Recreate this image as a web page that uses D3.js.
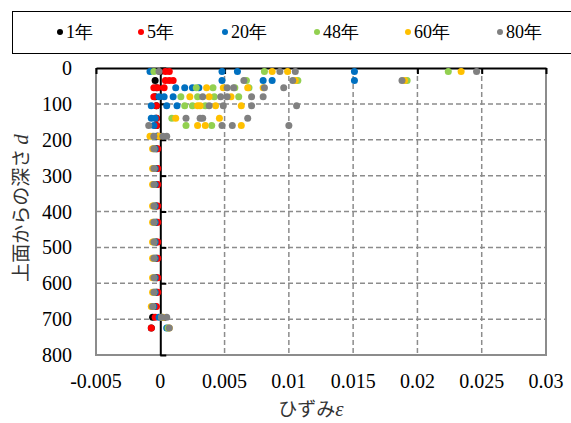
<!DOCTYPE html>
<html>
<head>
<meta charset="utf-8">
<script src="https://cdn.jsdelivr.net/npm/d3@7"></script>
<style>
  body { margin: 0; background: #fff; }
  svg { display: block; }
</style>
</head>
<body>
<div id="chart"></div>
<script>
// series and colours
const seriesNames = ['1年', '5年', '20年', '48年', '60年', '80年']
const seriesColors = ['#000000', '#ff0000', '#0070c0', '#92d050', '#ffc000', '#808080']

const xTicks = [-0.005, 0, 0.005, 0.01, 0.015, 0.02, 0.025, 0.03]
const yTicks = [0, 100, 200, 300, 400, 500, 600, 700, 800]

// [strain, depth]
const y1 = [[0, 10], [-0.0004, 35], [-0.0003, 55], [-0.0004, 80], [-0.0003, 105], [-0.0003, 140],
  [-0.0003, 160], [-0.0002, 190], [-0.0003, 225], [-0.0003, 280], [-0.0003, 325], [-0.0003, 385],
  [-0.0003, 430], [-0.0003, 485], [-0.0003, 530], [-0.0003, 585], [-0.0003, 625], [-0.0004, 665],
  [-0.0006, 695], [-0.0007, 725]]
const y5 = [[0.0004, 10], [0.0007, 10], [0.0004, 35], [0.0007, 35], [0.001, 35], [-0.0005, 55],
  [-0.0002, 55], [0.0003, 55], [-0.0005, 80], [-0.0003, 105], [-0.0003, 140], [-0.0003, 160],
  [-0.0002, 190], [-0.0002, 225], [-0.0002, 280], [-0.0002, 325], [-0.0002, 385], [-0.0002, 430],
  [-0.0002, 485], [-0.0002, 530], [-0.0002, 585], [-0.0002, 625], [-0.0003, 665], [-0.0004, 695],
  [-0.0007, 725]]
const y20 = [[-0.0008, 10], [0.0048, 10], [0.006, 10], [0.0151, 10], [0.0048, 35], [0.008, 35],
  [0.0087, 35], [0.0151, 35], [0.0012, 55], [0.0019, 55], [0.0025, 55], [0.003, 55],
  [-0.0001, 80], [0.0003, 80], [0.001, 80], [-0.0007, 105], [0.0005, 105], [0.0013, 105],
  [-0.0007, 140], [-0.0004, 140], [-0.0005, 160], [-0.0003, 190], [-0.0004, 225], [-0.0004, 280],
  [-0.0004, 325], [-0.0004, 385], [-0.0004, 430], [-0.0004, 485], [-0.0004, 530], [-0.0004, 585],
  [-0.0004, 625], [-0.0005, 665], [-0.0001, 695], [0.0005, 725]]
const y48 = [[-0.0005, 10], [0.0081, 10], [0.0224, 10], [0.0067, 35], [0.0107, 35], [0.0192, 35],
  [0.0028, 55], [0.0041, 55], [0.0058, 55], [0.0069, 55], [0.0016, 80], [0.0029, 80],
  [0.0042, 80], [0.0061, 80], [0.0019, 105], [0.0025, 105], [0.0035, 105], [0.0009, 140],
  [0.002, 160], [0.004, 160], [-0.0006, 190], [-0.0005, 225], [-0.0005, 280], [-0.0005, 325],
  [-0.0005, 385], [-0.0005, 430], [-0.0005, 485], [-0.0005, 530], [-0.0005, 585], [-0.0005, 625],
  [-0.0006, 665], [0.0001, 695], [0.0006, 725]]
const y60 = [[0.0087, 10], [0.0099, 10], [0.0234, 10], [0.0105, 35], [0.019, 35], [0.0036, 55],
  [0.0049, 55], [0.0068, 55], [0.008, 55], [0.0023, 80], [0.0038, 80], [0.0055, 80],
  [0.0029, 105], [0.0031, 105], [0.0043, 105], [0.0063, 105], [0.0012, 140], [0.0046, 140],
  [0.0029, 160], [0.0035, 160], [0.0063, 160], [-0.0008, 190], [-0.0001, 190], [-0.0006, 225],
  [-0.0006, 280], [-0.0006, 325], [-0.0006, 385], [-0.0006, 430], [-0.0006, 485], [-0.0006, 530],
  [-0.0006, 585], [-0.0006, 625], [-0.0007, 665], [0.0002, 695], [0.0007, 725]]
const y80 = [[-0.0001, 10], [0.0093, 10], [0.0105, 10], [0.0246, 10], [0.0065, 35], [0.0103, 35],
  [0.0188, 35], [0.0052, 55], [0.0057, 55], [0.0081, 55], [0.0096, 55], [0.0033, 80],
  [0.0047, 80], [0.0052, 80], [0.0071, 80], [0.008, 80], [0.0038, 105], [0.0049, 105],
  [0.0071, 105], [0.0106, 105], [0.002, 140], [0.0031, 140], [0.0033, 140], [0.0068, 140],
  [-0.0009, 160], [0.0048, 160], [0.0056, 160], [0.01, 160], [-0.0005, 190], [0.0002, 190],
  [0.0005, 190], [-0.0005, 225], [-0.0005, 280], [-0.0005, 325], [-0.0005, 385], [-0.0005, 430],
  [-0.0005, 485], [-0.0005, 530], [-0.0005, 585], [-0.0005, 625], [-0.0006, 665], [0.0001, 695],
  [0.0005, 695], [0.0007, 725]]

const seriesData = [y1, y5, y20, y48, y60, y80]

const serif = 'Liberation Serif, Tinos, Times New Roman, DejaVu Serif, serif'
const jp = 'Noto Sans CJK JP, sans-serif'

const W = 571, H = 423
const svg = d3.select('#chart').append('svg')
  .attr('width', W)
  .attr('height', H)

const x = d3.scaleLinear().domain([-0.005, 0.03]).range([96, 546])
const y = d3.scaleLinear().domain([0, 800]).range([68, 355])

const gridColor = '#8c8c8c'

// dashed grid
svg.append('g').selectAll('line')
  .data(yTicks.slice(1, -1))
  .join('line')
  .attr('x1', x(-0.005)).attr('x2', x(0.03))
  .attr('y1', d => y(d)).attr('y2', d => y(d))
  .attr('stroke', gridColor).attr('stroke-width', 1.5)
  .attr('stroke-dasharray', '5,3')

svg.append('g').selectAll('line')
  .data(xTicks.filter(d => d !== 0 && d !== -0.005 && d !== 0.03))
  .join('line')
  .attr('x1', d => x(d)).attr('x2', d => x(d))
  .attr('y1', y(0)).attr('y2', y(800))
  .attr('stroke', gridColor).attr('stroke-width', 1.5)
  .attr('stroke-dasharray', '5,3')

// plot frame (left, right, bottom)
svg.append('path')
  .attr('d', `M${x(-0.005)},${y(0)}V${y(800)}H${x(0.03)}V${y(0)}`)
  .attr('fill', 'none')
  .attr('stroke', gridColor)
  .attr('stroke-width', 2)

// axis lines: strain axis at depth 0, depth axis at strain 0
const xAxis = d3.axisBottom(x).tickValues(xTicks).tickSize(6).tickSizeOuter(0).tickFormat('')
const gx = svg.append('g').attr('transform', `translate(0,${y(0)})`).call(xAxis)
gx.selectAll('line, path').attr('stroke', '#000').attr('stroke-width', 2)

const yAxis = d3.axisRight(y).tickValues(yTicks).tickSize(6).tickSizeOuter(0).tickFormat('')
const gy = svg.append('g').attr('transform', `translate(${x(0)},0)`).call(yAxis)
gy.selectAll('line, path').attr('stroke', '#000').attr('stroke-width', 2)

// tick labels
svg.append('g').selectAll('text')
  .data(xTicks)
  .join('text')
  .style('font-family', serif)
  .attr('x', d => x(d))
  .attr('y', 388)
  .attr('text-anchor', 'middle')
  .attr('font-size', 20)
  .text(d => String(+d.toFixed(3)))

svg.append('g').selectAll('text')
  .data(yTicks)
  .join('text')
  .style('font-family', serif)
  .attr('x', 72)
  .attr('y', d => y(d))
  .attr('dy', '0.35em')
  .attr('text-anchor', 'end')
  .attr('font-size', 20)
  .text(d => d)

// points
seriesData.forEach((pts, i) => {
  svg.append('g').selectAll('circle')
    .data(pts)
    .join('circle')
    .attr('cx', d => x(d[0]))
    .attr('cy', d => y(d[1]))
    .attr('r', 3.5)
    .attr('fill', seriesColors[i])
})

// axis titles
const yTitle = svg.append('text')
  .attr('transform', 'translate(28,208) rotate(-90)')
  .attr('text-anchor', 'middle')
  .attr('font-size', 19)
  .style('font-family', jp)
  .attr('fill', '#333')
yTitle.append('tspan').text('上面からの深さ ')
yTitle.append('tspan').style('font-family', serif).attr('font-style', 'italic').attr('font-size', 21).text('d')

const xTitle = svg.append('text')
  .attr('x', 311)
  .attr('y', 416)
  .attr('text-anchor', 'middle')
  .attr('font-size', 19)
  .style('font-family', jp)
  .attr('fill', '#333')
xTitle.append('tspan').text('ひずみ')
xTitle.append('tspan').style('font-family', serif).attr('font-style', 'italic').attr('font-size', 21).text('ε')

// legend
svg.append('rect')
  .attr('x', 12.5).attr('y', 11.5)
  .attr('width', 570).attr('height', 42)
  .attr('fill', 'none').attr('stroke', '#000').attr('stroke-width', 1)

const legendX = [60, 141, 225, 317, 408, 500]
const leg = svg.append('g').selectAll('g')
  .data(seriesNames)
  .join('g')
  .attr('transform', (d, i) => `translate(${legendX[i]},32)`)

leg.append('circle')
  .attr('r', 3)
  .attr('fill', (d, i) => seriesColors[i])

leg.append('text')
  .attr('x', 6)
  .attr('dy', '0.35em')
  .attr('font-size', 18)
  .style('font-family', serif)
  .text(d => d)
</script>
</body>
</html>
